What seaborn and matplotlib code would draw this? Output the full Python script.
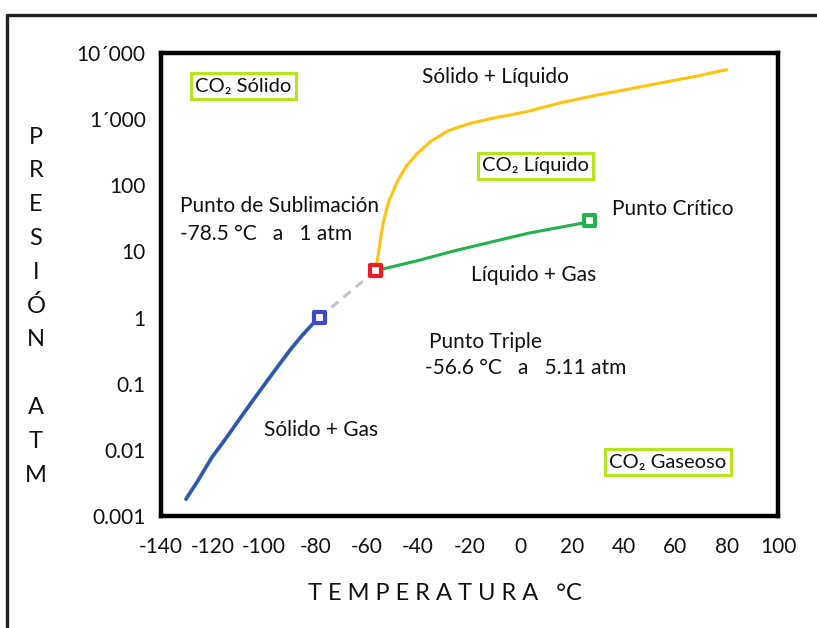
import matplotlib
matplotlib.use("Agg")
import matplotlib.pyplot as plt
import pandas as pd
import seaborn as sns

# Sublimation curve (solid - gas)
subl_t = [-130.3, -125.8, -120.3, -114.7, -109.2, -103.6, -98.9, -94.5, -89.6,
          -85.2, -80.8, -78.5]
subl_p = [0.0018, 0.00334, 0.0076, 0.0150, 0.0302, 0.0607, 0.1077, 0.184, 0.330,
          0.532, 0.818, 1.0]

# Dashed extension from the sublimation point to the triple point
ext_t = [-78.5, -56.6]
ext_p = [1.0, 5.11]

# Melting curve (solid - liquid)
melt_t = [-56.6, -55.9, -54.9, -53.6, -51.4, -48.2, -44.6, -40.4, -35.0, -28.2,
          -19.9, -11.0, -4.3, 2.2, 15.7, 28.8, 42.1, 55.2, 68.6, 80.1]
melt_p = [5.11, 7.0, 13.0, 27.0, 57.0, 112.0, 195.0, 301.0, 464.0, 671.0,
          861.0, 1035.0, 1157.0, 1298.0, 1778.0, 2276.0, 2857.0, 3582.0, 4480.0, 5623.0]

# Vaporization curve (liquid - gas)
vap_t = [-56.6, -40.5, -25.5, 2.7, 24.8, 26.8]
vap_p = [5.11, 7.2, 10.3, 18.8, 27.2, 29.1]

# Highlighted points
point_names = ["Sublimación", "Triple", "Crítico"]
point_t = [-78.5, -56.6, 26.8]
point_p = [1.0, 5.11, 29.1]

x_ticks = [-140, -120, -100, -80, -60, -40, -20, 0, 20, 40, 60, 80, 100]
y_ticks = [0.001, 0.01, 0.1, 1, 10, 100, 1000, 10000]
y_tick_labels = ["0.001", "0.01", "0.1", "1", "10", "100", "1´000", "10´000"]

BLUE = "#3F48CC"
RED = "#ED1C24"
GREEN = "#22B14C"
YELLOW = "#FFC20E"
GRAY = "#C3C3C3"
LIME = "#B5E61D"
INK = "#111111"

sns.set_theme(style="white")
plt.rcParams["font.family"] = ["Lato", "DejaVu Sans"]
plt.rcParams["text.color"] = INK

W, H = 817, 628
fig = plt.figure(figsize=(W / 100, H / 100), dpi=100)
L, R, T, B = 161, 778, 53, 516
ax = fig.add_axes([L / W, 1 - B / H, (R - L) / W, (B - T) / H])

# curves
sns.lineplot(x=subl_t, y=subl_p, ax=ax, color=GREEN, lw=2.8, sort=False)
sns.lineplot(x=subl_t, y=subl_p, ax=ax, color=BLUE, lw=2.1, sort=False)
sns.lineplot(x=ext_t, y=ext_p, ax=ax, color=GRAY, lw=2.2, sort=False,
             linestyle=(0, (3, 2.2)))
sns.lineplot(x=melt_t, y=melt_p, ax=ax, color=YELLOW, lw=2.2, sort=False)
sns.lineplot(x=vap_t, y=vap_p, ax=ax, color=GREEN, lw=2.2, sort=False)

pts = pd.DataFrame({"name": point_names, "t": point_t, "p": point_p})
sns.scatterplot(data=pts, x="t", y="p", hue="name", ax=ax, marker="s", s=64,
                palette=[BLUE, RED, GREEN], linewidth=3.0, legend=False, zorder=5)
# hollow squares: white face, coloured edge
for coll in ax.collections:
    coll.set_facecolor("white")
    coll.set_edgecolor([BLUE, RED, GREEN])

ax.set_yscale("log")
ax.set_xlim(-140, 100)
ax.set_ylim(0.001, 10000)
ax.set_xticks(x_ticks)
ax.set_xticklabels([str(v) for v in x_ticks])
ax.set_yticks(y_ticks)
ax.set_yticklabels(y_tick_labels)
ax.minorticks_off()
ax.set_xlabel("")
ax.set_ylabel("")

for s in ax.spines.values():
    s.set_visible(True)
    s.set_color("black")
    s.set_linewidth(3.2)

ax.tick_params(axis="both", which="major", direction="inout", length=12,
               width=2.2, color="black", labelsize=15, labelcolor=INK)
ax.tick_params(axis="y", pad=5)
ax.tick_params(axis="x", pad=9)
for tk in (ax.xaxis.get_major_ticks()[0], ax.xaxis.get_major_ticks()[-1],
           ax.yaxis.get_major_ticks()[0], ax.yaxis.get_major_ticks()[-1]):
    tk.tick1line.set_visible(False)
    tk.tick2line.set_visible(False)


def ax_pos(px, py):
    return ((px - L) / (R - L), (B - py) / (B - T))


def note(px, py, s, box=False, size=15):
    kw = dict(transform=ax.transAxes, ha="left", va="center", fontsize=size,
              color=INK)
    if box:
        kw["bbox"] = dict(boxstyle="square,pad=0.22", fc="white", ec=LIME, lw=2.2)
    ax.text(*ax_pos(px, py), s, **kw)


note(195, 86, "CO₂ Sólido", box=True, size=14.5)
note(422, 77, "Sólido + Líquido")
note(482, 166, "CO₂ Líquido", box=True, size=14.5)
note(180, 206, "Punto de Sublimación")
note(180, 234, "-78.5 °C   a   1 atm")
note(612, 209, "Punto Crítico")
note(471, 275, "Líquido + Gas")
note(429, 342, "Punto Triple")
note(425, 368, "-56.6 °C   a   5.11 atm")
note(264, 430, "Sólido + Gas")
note(609, 462, "CO₂ Gaseoso", box=True, size=14.5)

# axis titles
letters = ["P", "R", "E", "S", "I", "Ó", "N", "", "A", "T", "M"]
for i, ch in enumerate(letters):
    if ch:
        fig.text(36 / W, 1 - (137 + i * 33.8) / H, ch, ha="center", va="center",
                 fontsize=17, color=INK)
fig.text(445 / W, 1 - 593 / H, "T E M P E R A T U R A   °C", ha="center",
         va="center", fontsize=17, color=INK)

# outer frame
fig.add_artist(plt.Line2D([7 / W, 7 / W], [0, 1 - 15 / H], color="#222222",
                          lw=2.4, transform=fig.transFigure))
fig.add_artist(plt.Line2D([7 / W, 1], [1 - 15 / H, 1 - 15 / H], color="#222222",
                          lw=2.4, transform=fig.transFigure))

fig.savefig("out.png", dpi=100)
